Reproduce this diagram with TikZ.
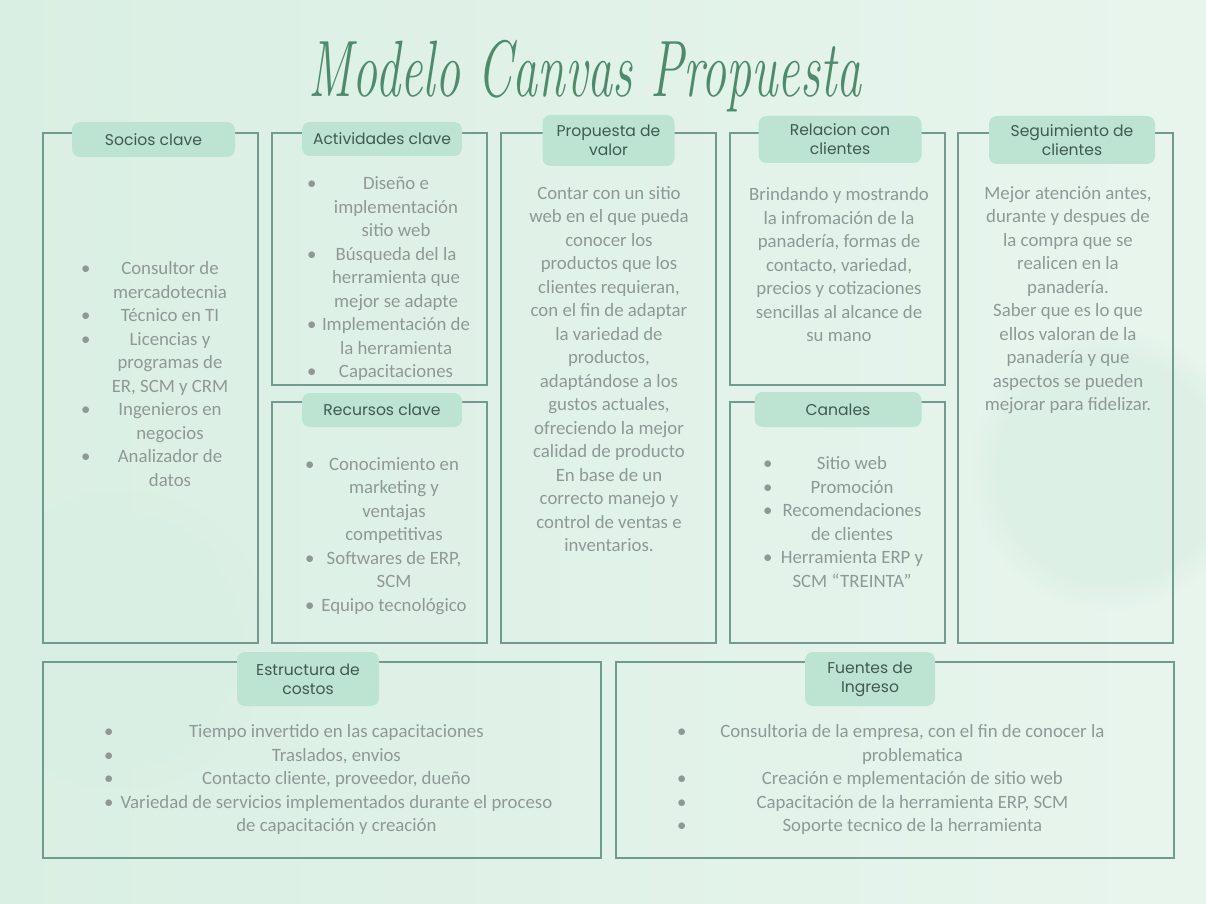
\documentclass[tikz,border=0pt]{standalone}
\usepackage{fontspec}
\newfontfamily\canvasfont{Carlito}
\newfontfamily\headfont{Poppins}
\usepackage{array}
\usepackage{xcolor}
\definecolor{canvasline}{HTML}{739A8E}
\definecolor{canvastab}{HTML}{BDE3D2}
\definecolor{canvastext}{HTML}{8E9995}
\definecolor{canvashead}{HTML}{3E5B51}
\definecolor{canvastitle}{HTML}{4E8B6C}
\definecolor{canvasmint}{HTML}{DAEFE3}
\definecolor{canvaspale}{HTML}{F6FBF8}
\usetikzlibrary{positioning,fadings}

\newcommand{\canvaslist}[3]{%
  \begin{tabular}{@{}p{#1}@{}>{\centering\arraybackslash}p{#2}@{}}#3\end{tabular}}

\begin{document}
\begin{tikzpicture}[x=0.5pt,y=-0.5pt,
    canvasbox/.style={draw=canvasline,line width=1pt,minimum width=107.5pt,inner sep=0pt},
    headtab/.style={fill=canvastab,rounded corners=4pt,text=canvashead,align=center,
      font=\headfont\fontsize{7.8}{9.5}\selectfont,inner sep=0pt},
    bodytext/.style={text=canvastext,align=center,inner sep=0pt,
      font=\canvasfont\fontsize{9.4}{11.75}\selectfont},
    listtext/.style={bodytext,anchor=west}]
    \useasboundingbox (0,0) rectangle (1206,904);
    \shade[left color=canvasmint,middle color=canvaspale,right color=canvasmint!50!canvaspale]
        (0,0) rectangle (1206,904);
    \fill[canvasmint,opacity=0.7,path fading=circle with fuzzy edge 20 percent] (1110,470) circle (140);
    \fill[canvasmint,opacity=0.7,path fading=circle with fuzzy edge 20 percent] (120,640) circle (150);

    \node[text=canvastitle,inner sep=0pt,anchor=base] (title) at (585,97)
        {\scalebox{1}[1.6]{\fontsize{25}{30}\selectfont\itshape Modelo Canvas Propuesta}};

    % cuadros del lienzo
    \node[canvasbox,minimum height=255pt] (socios) at (150.5,388) {};
    \node[canvasbox,minimum height=126pt] (actividades) at (379.5,259) {};
    \node[canvasbox,minimum height=120.5pt] (recursos) at (379.5,522.5) {};
    \node[canvasbox,minimum height=255pt] (propuesta) at (608.5,388) {};
    \node[canvasbox,minimum height=126pt] (relacion) at (837,259) {};
    \node[canvasbox,minimum height=120.5pt] (canales) at (837,522.5) {};
    \node[canvasbox,minimum height=255pt] (seguimiento) at (1065.5,388) {};
    \node[canvasbox,minimum width=279pt,minimum height=98pt] (estructura) at (322,760) {};
    \node[canvasbox,minimum width=279pt,minimum height=98pt] (fuentes) at (895,760) {};

    % encabezados
    \node[headtab,minimum width=81.5pt,minimum height=17.5pt,xshift=1.5pt,yshift=-3.75pt]
        (socioshead) at (socios.north) {Socios clave};
    \node[headtab,minimum width=80pt,minimum height=17pt,xshift=1.25pt,yshift=-3.5pt]
        (actividadeshead) at (actividades.north) {Actividades clave};
    \node[headtab,minimum width=66pt,minimum height=25.5pt,yshift=-4.25pt]
        (propuestahead) at (propuesta.north) {Propuesta de\\valor};
    \node[headtab,minimum width=81.5pt,minimum height=23.5pt,xshift=1.5pt,yshift=-3.75pt]
        (relacionhead) at (relacion.north) {Relacion con\\clientes};
    \node[headtab,minimum width=83pt,minimum height=24pt,xshift=3.25pt,yshift=-4pt]
        (seguimientohead) at (seguimiento.north) {Seguimiento de\\clientes};
    \node[headtab,minimum width=80pt,minimum height=17pt,xshift=1.25pt,yshift=-4.5pt]
        (recursoshead) at (recursos.north) {Recursos clave};
    \node[headtab,minimum width=83.5pt,minimum height=17.5pt,xshift=0.5pt,yshift=-4.25pt]
        (canaleshead) at (canales.north) {Canales};
    \node[headtab,minimum width=71pt,minimum height=27pt,xshift=-7pt,yshift=-9pt]
        (estructurahead) at (estructura.north) {Estructura de\\costos};
    \node[headtab,minimum width=65pt,minimum height=27pt,xshift=-12.5pt,yshift=-9pt]
        (fuenteshead) at (fuentes.north) {Fuentes de\\Ingreso};

    % contenido
    \node[listtext] (sociostext) at (80.6,376) {\canvaslist{4.5pt}{80pt}{%
        \textbullet & Consultor de\\ & mercadotecnia\\
        \textbullet & Técnico en TI\\
        \textbullet & Licencias y\\ & programas de\\ & ER, SCM y CRM\\
        \textbullet & Ingenieros en\\ & negocios\\
        \textbullet & Analizador de\\ & datos}};
    \node[listtext] (actividadestext) at (306.6,279) {\canvaslist{4.5pt}{80pt}{%
        \textbullet & Diseño e\\ & implementación\\ & sitio web\\
        \textbullet & Búsqueda del la\\ & herramienta que\\ & mejor se adapte\\
        \textbullet & Implementación de\\ & la herramienta\\
        \textbullet & Capacitaciones}};
    \node[listtext] (recursostext) at (304.6,536) {\canvaslist{4.5pt}{80pt}{%
        \textbullet & Conocimiento en\\ & marketing y\\ & ventajas\\ & competitivas\\
        \textbullet & Softwares de ERP,\\ & SCM\\
        \textbullet & Equipo tecnológico}};
    \node[bodytext] (propuestatext) at (609,369) {Contar con un sitio\\web en el que pueda\\
        conocer los\\productos que los\\clientes requieran,\\con el fin de adaptar\\
        la variedad de\\productos,\\adaptándose a los\\gustos actuales,\\
        ofreciendo la mejor\\calidad de producto\\En base de un\\correcto manejo y\\
        control de ventas e\\inventarios.};
    \node[bodytext] (relaciontext) at (839,265) {Brindando y mostrando\\la infromación de la\\
        panadería, formas de\\contacto, variedad,\\precios y cotizaciones\\
        sencillas al alcance de\\su mano};
    \node[listtext] (canalestext) at (762.6,524) {\canvaslist{4.5pt}{80pt}{%
        \textbullet & Sitio web\\
        \textbullet & Promoción\\
        \textbullet & Recomendaciones\\ & de clientes\\
        \textbullet & Herramienta ERP y\\ & SCM “TREINTA”}};
    \node[bodytext] (seguimientotext) at (1068,300) {Mejor atención antes,\\
        durante y despues de\\la compra que se\\realicen en la\\panadería.\\
        Saber que es lo que\\ellos valoran de la\\panadería y que\\
        aspectos se pueden\\mejorar para fidelizar.};
    \node[listtext] (estructuratext) at (103.6,780) {\canvaslist{4pt}{224.4pt}{%
        \textbullet & Tiempo invertido en las capacitaciones\\
        \textbullet & Traslados, envios\\
        \textbullet & Contacto cliente, proveedor, dueño\\
        \textbullet & Variedad de servicios implementados durante el proceso\\
          & de capacitación y creación}};
    \node[listtext] (fuentestext) at (676.6,780) {\canvaslist{4pt}{227.4pt}{%
        \textbullet & Consultoria de la empresa, con el fin de conocer la\\ & problematica\\
        \textbullet & Creación e mplementación de sitio web\\
        \textbullet & Capacitación de la herramienta ERP, SCM\\
        \textbullet & Soporte tecnico de la herramienta}};
\end{tikzpicture}
\end{document}
